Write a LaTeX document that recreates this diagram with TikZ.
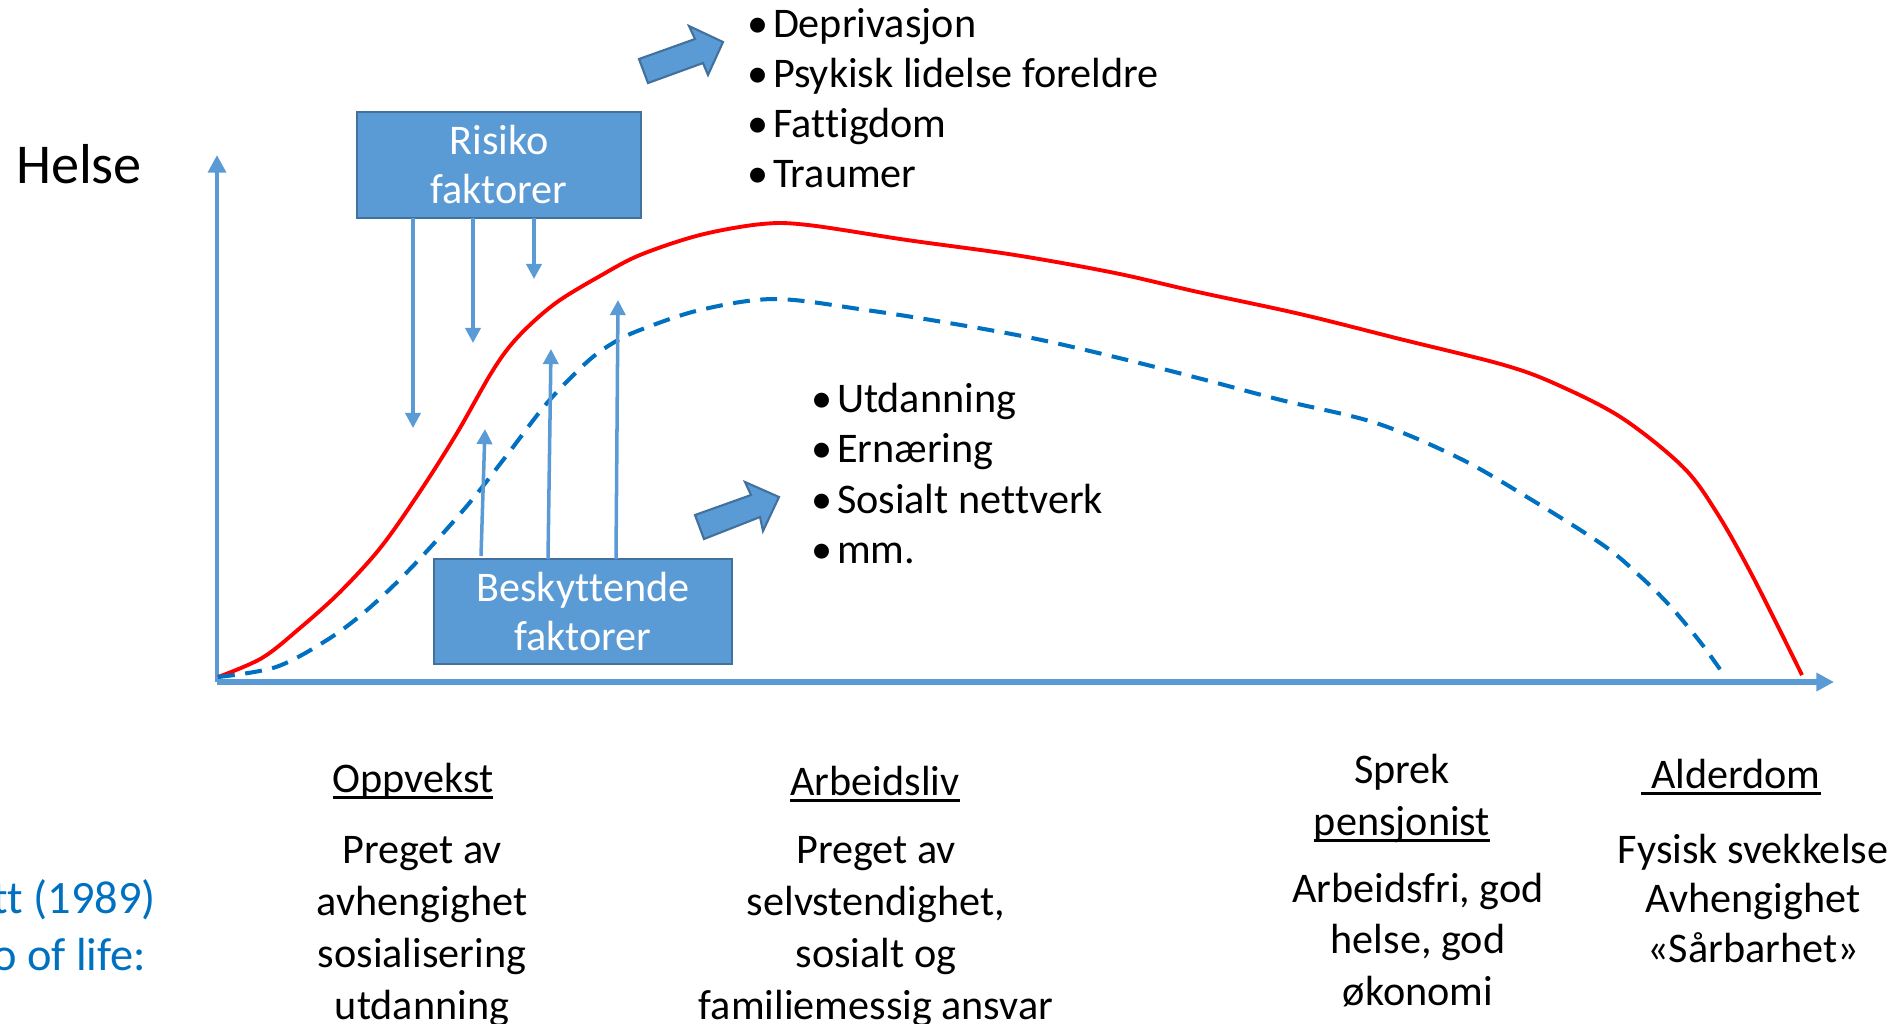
\documentclass[tikz,border=0pt]{standalone}
\usepackage{fontspec}
\setmainfont{Carlito}[Ligatures=CommonOff, RawFeature={-liga,-clig,-dlig}]
\usetikzlibrary{arrows.meta}
\definecolor{axisblue}{HTML}{5B9BD5}
\definecolor{boxedge}{HTML}{41719C}
\definecolor{dashblue}{HTML}{0070C0}
\definecolor{curvered}{HTML}{FF0000}
\newsavebox\ulbox
\newcommand\ulx[1]{\sbox\ulbox{#1}\rlap{\rule[-1.9pt]{\wd\ulbox}{0.9pt}}\usebox\ulbox}
\newcommand\bul{\makebox[0.26cm][l]{•}}
\newcommand\ttnolig{t\kern0pt t}
\begin{document}
\begin{tikzpicture}[x=0.01cm,y=-0.01cm,
  txt/.style={inner sep=0pt, outer sep=0pt, anchor=base, font=\fontsize{12}{14.8}\selectfont},
  fbox/.style={draw=boxedge, line width=0.7pt, fill=axisblue, inner sep=0pt, outer sep=0pt},
  boxtxt/.style={txt, text=white, font=\fontsize{12}{14.2}\selectfont},
  axisline/.style={draw=axisblue, line width=1.2pt, -{Triangle[length=5pt,width=5pt]}},
  farrow/.style={draw=axisblue, line width=1pt, -{Triangle[length=4.3pt,width=4.3pt]}},
  blockarrow/.style={draw=boxedge, line width=0.6pt, fill=axisblue, line join=miter},
  redcurve/.style={draw=curvered, line width=1.1pt},
  dashcurve/.style={draw=dashblue, line width=1.15pt, dash pattern=on 4.8pt off 3pt}
]
\useasboundingbox (0,0) rectangle (1893,1023);
\clip (0,0) rectangle (1893,1023);

% axes
\coordinate (O) at (217,682);
\coordinate (ytop) at (217,155);
\coordinate (xend) at (1834,682);
\draw[axisline] (O) -- (ytop);
\draw[axisline, line width=1.6pt] (O) -- (xend);

% curves
\draw[redcurve] plot[smooth, tension=0.55] coordinates {
 (218,677) (262,658) (300,628) (340,592) (381,547) (421,490) (457,433)
 (490,375) (510,346) (533,322) (560,300) (600,276) (640,255)
 (700,235) (762,224) (808,225)
 (907,240) (1015,255) (1115,273) (1198,292) (1300,314) (1400,339)
 (1504,365) (1558,385) (1622,418) (1683,467) (1717,513) (1753,577) (1802,675)};
\draw[dashcurve] plot[smooth, tension=0.55] coordinates {
 (218,677) (276,667) (327,640) (367,610) (412,567) (466,507) (507,455)
 (547,403) (587,362) (613,343) (640,330) (700,310) (775,299) (866,310)
 (949,323) (1032,338) (1115,357) (1198,378) (1281,400) (1376,423)
 (1459,458) (1527,497) (1603,545) (1641,577) (1671,607) (1701,643) (1724,675)};

% boxes
\node[fbox, minimum width=2.84cm, minimum height=1.06cm] (risiko) at (499,165) {};
\node[boxtxt] (risikotxt) at (499,154) {\begin{tabular}[t]{@{}c@{}}Risiko\\faktorer\end{tabular}};
\node[fbox, minimum width=2.98cm, minimum height=1.05cm] (besk) at (583,611.5) {};
\node[boxtxt] (besktxt) at (583,601) {\begin{tabular}[t]{@{}c@{}}Besky\ttnolig ende\\faktorer\end{tabular}};

% risk arrows (down)
\coordinate (r1) at (413,428);
\coordinate (r2) at (473,343);
\coordinate (r3) at (534,279);
\draw[farrow] (r1 |- risiko.south) -- (r1);
\draw[farrow] (r2 |- risiko.south) -- (r2);
\draw[farrow] (r3 |- risiko.south) -- (r3);

% protective arrows (up)
\coordinate (b1s) at (481,556);
\coordinate (b1) at (485,429);
\coordinate (b2s) at (548,559);
\coordinate (b2) at (551,349);
\coordinate (b3s) at (616,559);
\coordinate (b3) at (618,300);
\draw[farrow] (b1s) -- (b1);
\draw[farrow] (b2s) -- (b2);
\draw[farrow] (b3s) -- (b3);

% block arrows
\draw[blockarrow] (639,59) -- (695,39) -- (689,26) -- (723,42) -- (708,75) -- (703,63) -- (648,83) -- cycle;
\draw[blockarrow] (695,515) -- (751,495) -- (745,482) -- (779,497) -- (763,531) -- (760,517) -- (704,539) -- cycle;

% Helse
\node[txt, anchor=base west, font=\fontsize{16}{19}\selectfont] (helse) at (16,183) {Helse};

% bullet lists
\node[txt, anchor=base west, font=\fontsize{12}{14.3}\selectfont] (risklist) at (747,37)
 {\begin{tabular}[t]{@{}l@{}}\bul Deprivasjon\\\bul Psykisk lidelse foreldre\\\bul Fa\ttnolig igdom\\\bul Traumer\end{tabular}};
\node[txt, anchor=base west, font=\fontsize{12}{14.4}\selectfont] (protlist) at (811,412)
 {\begin{tabular}[t]{@{}l@{}}\bul Utdanning\\\bul Ernæring\\\bul Sosialt ne\ttnolig verk\\\bul mm.\end{tabular}};

% life phases
\node[txt] (opptitle) at (413,792) {\ulx{Oppvekst}};
\node[txt] (oppbody) at (422,863)
 {\begin{tabular}[t]{@{}c@{}}Preget av\\avhengighet\\sosialisering\\utdanning\end{tabular}};
\node[txt] (arbtitle) at (875,795) {\ulx{Arbeidsliv}};
\node[txt] (arbbody) at (876,863)
 {\begin{tabular}[t]{@{}c@{}}Preget av\\selvstendighet,\\sosialt og\\familiemessig ansvar\end{tabular}};
\node[txt] (sprtitle) at (1402,783)
 {\begin{tabular}[t]{@{}c@{}}Sprek\\\ulx{pensjonist}\end{tabular}};
\node[txt, font=\fontsize{12}{14.65}\selectfont] (sprbody) at (1418,902)
 {\begin{tabular}[t]{@{}c@{}}Arbeidsfri, god\\helse, god\\økonomi\end{tabular}};
\node[txt] (aldtitle) at (1731,788) {\ulx{\ Alderdom}};
\node[txt, font=\fontsize{12}{14.2}\selectfont] (aldbody) at (1753,863)
 {\begin{tabular}[t]{@{}c@{}}Fysisk svekkelse\\Avhengighet\\«Sårbarhet»\end{tabular}};

% clipped blue reference text
\node[txt, anchor=base east, text=dashblue, font=\fontsize{13.2}{16.2}\selectfont] (refa) at (156,913) {tt (1989)};
\node[txt, anchor=base east, text=dashblue, font=\fontsize{13.2}{16.2}\selectfont] (refb) at (146,970) {o of life:};
\end{tikzpicture}
\end{document}
